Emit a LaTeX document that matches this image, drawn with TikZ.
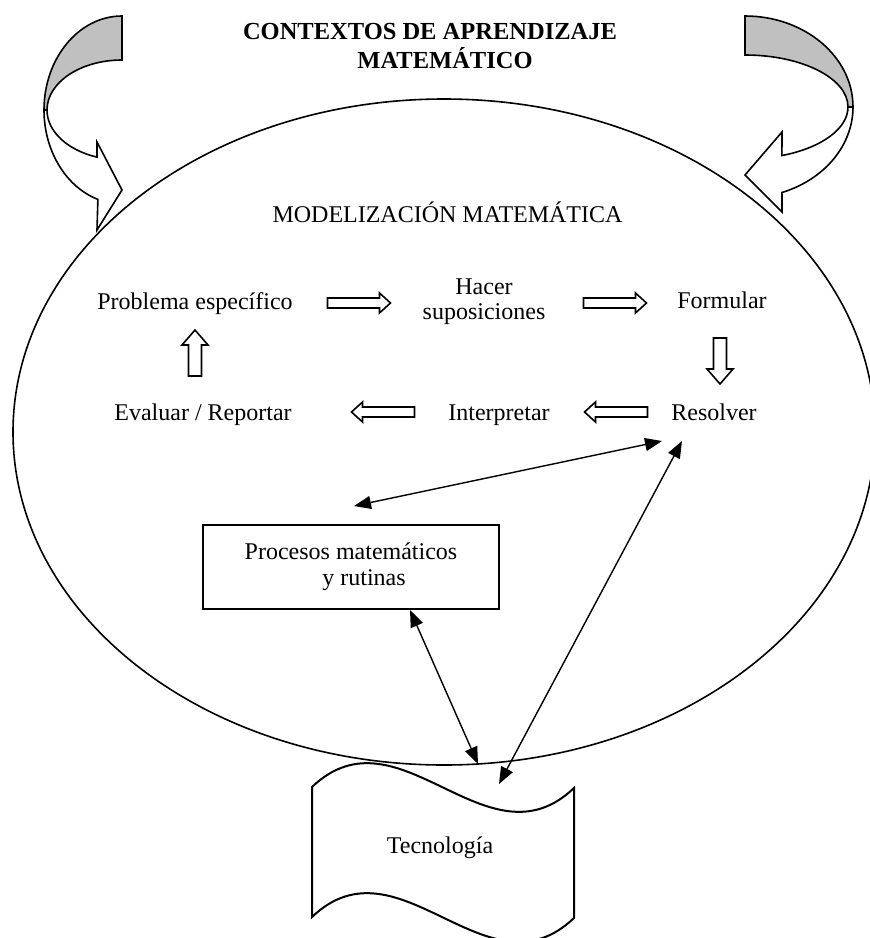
\documentclass[tikz,border=0pt]{standalone}
\usepackage{fontspec}
\setmainfont{Liberation Serif}
\usetikzlibrary{shapes.geometric,arrows.meta,calc}
\definecolor{bandgrey}{RGB}{192,192,192}
\begin{document}
\begin{tikzpicture}[x=1pt,y=-1pt,
  lbl/.style={inner sep=0pt, font=\fontsize{24}{25}\selectfont},
  titletext/.style={inner sep=0pt, font=\fontsize{24.5}{27}\selectfont\bfseries},
  outline/.style={draw=black, line width=1.6pt, line join=miter},
  blockline/.style={outline, fill=white},
  link/.style={line width=1.4pt,
    {Triangle[length=17pt,width=13pt]}-{Triangle[length=17pt,width=13pt]}},
  pics/hblock/.style={code={
    \draw[blockline] (-31.5,-5) -- (20.5,-5) -- (20.5,-10) -- (31.5,0)
      -- (20.5,10) -- (20.5,5) -- (-31.5,5) -- cycle;}},
  pics/vblock/.style={code={
    \draw[blockline] (-23,-6.5) -- (8,-6.5) -- (8,-13) -- (23,0)
      -- (8,13) -- (8,6.5) -- (-23,6.5) -- cycle;}}
]
\useasboundingbox (0,0) rectangle (870,938);

% title
\node[titletext, anchor=base] (title1) at (430,39) {CONTEXTOS DE APRENDIZAJE};
\node[titletext, anchor=base] (title2) at (445,68) {MATEMÁTICO};

% modelling cycle frame
\node[draw, ellipse, line width=1.6pt, inner sep=0pt,
      minimum width=862pt, minimum height=666pt] (model) at (444,432) {};

% curved arrow, upper left
\coordinate (lc) at (122,110);
\filldraw[outline, fill=bandgrey]
  ($(lc)+(270:78 and 94)$) arc[start angle=270, end angle=180, x radius=78, y radius=94]
  -- ($(lc)+(180:75 and 50)$) arc[start angle=180, end angle=270, x radius=75, y radius=50]
  -- cycle;
\filldraw[outline, fill=white]
  ($(lc)+(180:78 and 94)$) arc[start angle=180, end angle=108, x radius=78, y radius=94]
  -- (97,230) -- (122,190) -- (97,142)
  -- ($(lc)+(109.5:75 and 50)$) arc[start angle=109.5, end angle=180, x radius=75, y radius=50]
  -- cycle;

% curved arrow, upper right
\coordinate (rc) at (745,107);
\filldraw[outline, fill=bandgrey]
  ($(rc)+(270:108 and 91)$) arc[start angle=270, end angle=360, x radius=108, y radius=91]
  -- ($(rc)+(0:103 and 52)$) arc[start angle=360, end angle=270, x radius=103, y radius=52]
  -- cycle;
\filldraw[outline, fill=white]
  ($(rc)+(0:108 and 91)$) arc[start angle=0, end angle=70, x radius=108, y radius=91]
  -- (782,212) -- (745,175) -- (782,132)
  -- ($(rc)+(69:103 and 52)$) arc[start angle=69, end angle=0, x radius=103, y radius=52]
  -- cycle;

\node[lbl, anchor=base] (mtitle) at (447.5,222) {MODELIZACIÓN MATEMÁTICA};

% steps of the cycle
\node[lbl, anchor=base] (prob) at (195,309) {Problema específico};
\node[lbl, align=center] (hacer) at (484,302) {Hacer\\suposiciones};
\node[lbl, anchor=base] (form) at (722,308) {Formular};
\node[lbl, anchor=base] (res) at (714,420) {Resolver};
\node[lbl, anchor=base] (interp) at (499,420) {Interpretar};
\node[lbl, anchor=base] (eval) at (203,420) {Evaluar / Reportar};

% hollow block arrows between the steps
\pic at (359,303) {hblock};
\pic at (615,303) {hblock};
\pic[rotate=-90] at (720,361) {vblock};
\pic[rotate=180] at (616,412) {hblock};
\pic[rotate=180] at (383,412) {hblock};
\pic[rotate=90] at (195,353) {vblock};

% routines box
\node[draw, line width=1.6pt, fill=white, inner sep=0pt,
      minimum width=296pt, minimum height=84pt, align=center,
      font=\fontsize{24}{26}\selectfont] (proc) at (351,567)
      {Procesos matemáticos\\\hspace*{26pt}y rutinas};

% technology banner
\filldraw[outline, line width=2pt, fill=white]
  (312,787) .. controls (399,704) and (487,871) .. (574,788)
  -- (574,918) .. controls (487,1001) and (399,834) .. (312,917) -- cycle;
\node[lbl, anchor=base] (tec) at (440,853) {Tecnología};

% connector ends
\coordinate (resA) at (662,441);
\coordinate (resB) at (682,441);
\coordinate (procT) at (354,506);
\coordinate (procB) at (410,610);
\coordinate (tecA) at (478,764);
\coordinate (tecB) at (499,784);

\draw[link] (procT) -- (resA);
\draw[link] (resB) -- (tecB);
\draw[link] (procB) -- (tecA);
\end{tikzpicture}
\end{document}
